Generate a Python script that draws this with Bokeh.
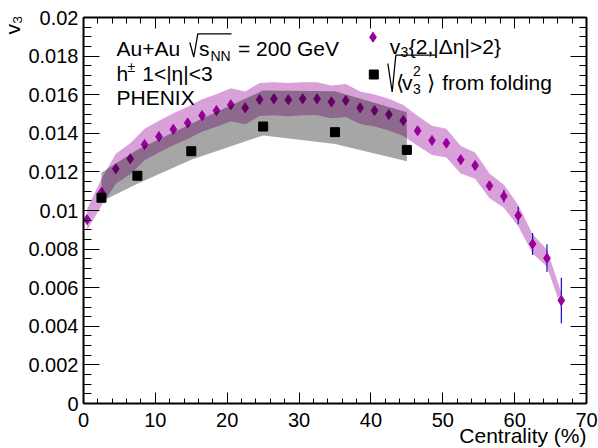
import numpy as np
from bokeh.plotting import figure
from bokeh.models import (Range1d, LinearAxis, FixedTicker, CustomJSTickFormatter, Label, Title)
from bokeh.embed import file_html
from bokeh.resources import INLINE

# ---------------- data ----------------
cent = [0.5, 2.5, 4.5, 6.5, 8.5, 10.5, 12.5, 14.5, 16.5, 18.5, 20.5, 22.5,
        24.5, 26.5, 28.5, 30.5, 32.5, 34.5, 36.5, 38.5, 40.5, 42.5, 44.5,
        46.5, 48.5, 50.5, 52.5, 54.5, 56.5, 58.5, 60.5, 62.5, 64.5, 66.5]
v3_2pc = [0.00953, 0.01095, 0.01216, 0.01268, 0.01342, 0.01383, 0.01421, 0.01454,
          0.01492, 0.01518, 0.01548, 0.01532, 0.01575, 0.01579, 0.01574, 0.01579,
          0.01579, 0.01563, 0.01570, 0.01532, 0.01518, 0.01497, 0.01466, 0.01413,
          0.01363, 0.01349, 0.01263, 0.01233, 0.01128, 0.01074, 0.00974, 0.00827,
          0.00753, 0.00534]
v3_stat = [0.00004, 0.00004, 0.00005, 0.00005, 0.00005, 0.00005, 0.00005, 0.00005,
           0.00005, 0.00006, 0.00006, 0.00006, 0.00006, 0.00007, 0.00007, 0.00007,
           0.00008, 0.00008, 0.00009, 0.00009, 0.00010, 0.00010, 0.00011, 0.00012,
           0.00013, 0.00015, 0.00017, 0.00020, 0.00024, 0.00032, 0.00045, 0.00057,
           0.00072, 0.00118]
v3_sys = [0.00055, 0.00070, 0.00078, 0.00080, 0.00081, 0.00082, 0.00083, 0.00083,
          0.00084, 0.00084, 0.00085, 0.00085, 0.00086, 0.00086, 0.00086, 0.00086,
          0.00086, 0.00085, 0.00085, 0.00084, 0.00083, 0.00082, 0.00080, 0.00078,
          0.00076, 0.00074, 0.00071, 0.00068, 0.00064, 0.00060, 0.00055, 0.00050,
          0.00045, 0.00040]

fold_cent = [2.5, 7.5, 15, 25, 35, 45]
fold_v3 = [0.01066, 0.01180, 0.01307, 0.01435, 0.01406, 0.01314]
fold_err_lo = [0.00020, 0.00042, 0.00044, 0.00046, 0.00061, 0.00059]
fold_err_hi = [0.00130, 0.00135, 0.00143, 0.00187, 0.00212, 0.00195]

x_ticks = [0, 10, 20, 30, 40, 50, 60, 70]
y_ticks = [0, 0.002, 0.004, 0.006, 0.008, 0.010, 0.012, 0.014, 0.016, 0.018, 0.020]

# ---------------- figure ----------------
FONT = "Liberation Sans"
W, H = 598, 448
XMIN, XMAX, YMIN, YMAX = 0, 70, 0, 0.02
# frame in canvas pixels: left 83, right 586, top 17, bottom 403
FL, FR, FT, FB = 83.0, 586.0, 17.0, 403.0


def dx(px):
    return XMIN + (px - FL) / (FR - FL) * (XMAX - XMIN)


def dy(py):
    return YMIN + (FB - py) / (FB - FT) * (YMAX - YMIN)


p = figure(width=W, height=H, output_backend="svg", toolbar_location=None,
           x_range=Range1d(XMIN, XMAX), y_range=Range1d(YMIN, YMAX),
           min_border_left=int(FL), min_border_right=int(W - FR), min_border_top=int(FT),
           min_border_bottom=int(H - FB))
p.outline_line_color = None
p.xgrid.visible = False
p.ygrid.visible = False
p.background_fill_color = "white"
p.border_fill_color = "white"

x_minor = [float(v) for v in np.arange(0, 70.01, 2)]
y_minor = [float(v) for v in np.arange(0, 0.02001, 0.0005)]
xt = FixedTicker(ticks=x_ticks, minor_ticks=x_minor)
yt = FixedTicker(ticks=y_ticks, minor_ticks=y_minor)
yfmt = CustomJSTickFormatter(code="return tick.toFixed(3).replace(/\\.?0+$/, '');")
blank = CustomJSTickFormatter(code="return '';")


def style_axis(ax, maj, mnr):
    ax.axis_line_width = 2
    ax.axis_line_color = "black"
    ax.major_tick_in = maj
    ax.major_tick_out = 0
    ax.minor_tick_in = mnr
    ax.minor_tick_out = 0
    ax.major_tick_line_color = "black"
    ax.minor_tick_line_color = "black"
    ax.major_tick_line_width = 1
    ax.minor_tick_line_width = 1
    ax.major_label_text_font = FONT
    ax.major_label_text_font_size = "20px"
    ax.major_label_text_color = "black"


xa = p.xaxis[0]
xa.ticker = xt
style_axis(xa, 11, 5)
xa.major_label_standoff = 9

ya = p.yaxis[0]
ya.ticker = yt
ya.formatter = yfmt
style_axis(ya, 16, 8)
ya.major_label_standoff = 5

ra = LinearAxis(ticker=yt, formatter=blank)
style_axis(ra, 16, 7)
ra.major_label_standoff = 0
ra.major_label_text_font_size = "1px"
p.add_layout(ra, "right")

ta = LinearAxis(ticker=xt, formatter=blank)
style_axis(ta, 11, 6)
ta.major_label_standoff = 0
ta.major_label_text_font_size = "1px"
p.add_layout(ta, "above")

# axis titles as side-panel titles (not clipped to the frame)
xtitle = Title(text="Centrality (%)", align="right", vertical_align="top",
               standoff=-12, offset=0, text_font=FONT, text_font_size="21px",
               text_font_style="normal", text_color="black")
p.add_layout(xtitle, "below")
ytitle = Title(text="v\u2083", align="right", vertical_align="top",
               standoff=0, offset=-2, text_font=FONT, text_font_size="21px",
               text_font_style="normal", text_color="black")
p.add_layout(ytitle, "left")

# ---------------- data glyphs ----------------
v = np.array(v3_2pc)
st = np.array(v3_stat)
sy = np.array(v3_sys)
p.varea(x=cent, y1=v - sy, y2=v + sy, fill_color="#990099", fill_alpha=0.37)
p.segment(x0=cent, y0=v - st, x1=cent, y1=v + st, line_color="#1010cc", line_width=1.2)
p.scatter(x=cent, y=v3_2pc, marker="diamond", size=10, fill_color="#990099",
          line_color="#990099", line_width=1)

fv = np.array(fold_v3)
p.varea(x=fold_cent, y1=fv - np.array(fold_err_lo), y2=fv + np.array(fold_err_hi),
        fill_color="black", fill_alpha=0.35)
p.scatter(x=fold_cent, y=fold_v3, marker="square", size=9, fill_color="black",
          line_color="black", line_width=1)


# ---------------- texts ----------------
def txt(px, py, s, size=21, align="left"):
    p.add_layout(Label(x=dx(px), y=dy(py), text=s, text_font=FONT,
                       text_font_size=f"{size}px", text_color="black",
                       text_align=align, text_baseline="alphabetic"))


def radical(pts):
    p.line(x=[dx(a) for a, b in pts], y=[dy(b) for a, b in pts],
           line_color="black", line_width=1.3)


# header
txt(116, 48.3, "Au+Au")
radical([(189.3, 42.0), (193.3, 56.5), (197.3, 33.3), (231.0, 33.3)])
txt(198.5, 48.3, "s")
txt(210, 55.5, "NN", size=14)
txt(237.5, 48.3, "= 200 GeV")
txt(116, 73.3, "h")
txt(127, 66.5, "±", size=14)
txt(141.7, 73.3, "1<|η|<3")
txt(116, 97.3, "PHENIX")

# legend
p.scatter(x=[dx(372.5)], y=[dy(36.7)], marker="diamond", size=10,
          fill_color="#990099", line_color="#990099", line_width=1)
txt(389.3, 45.5, "v")
txt(400, 51.5, "3", size=14)
txt(408.3, 45.5, "{2,|Δη|>2}")

p.scatter(x=[dx(373.3)], y=[dy(74)], marker="square", size=9,
          fill_color="black", line_color="black", line_width=1)
radical([(387.3, 63.0), (391.7, 91.5), (395.3, 54.7), (435.0, 54.7)])
txt(395, 81.7, "⟨")
txt(401.5, 81.7, "v")
txt(412.5, 70.0, "2", size=14)
txt(412.5, 88.0, "3", size=14)
txt(426.5, 81.7, "⟩")
txt(441.7, 81.7, "from folding")

open("out.html", "w").write(file_html(p, INLINE))
